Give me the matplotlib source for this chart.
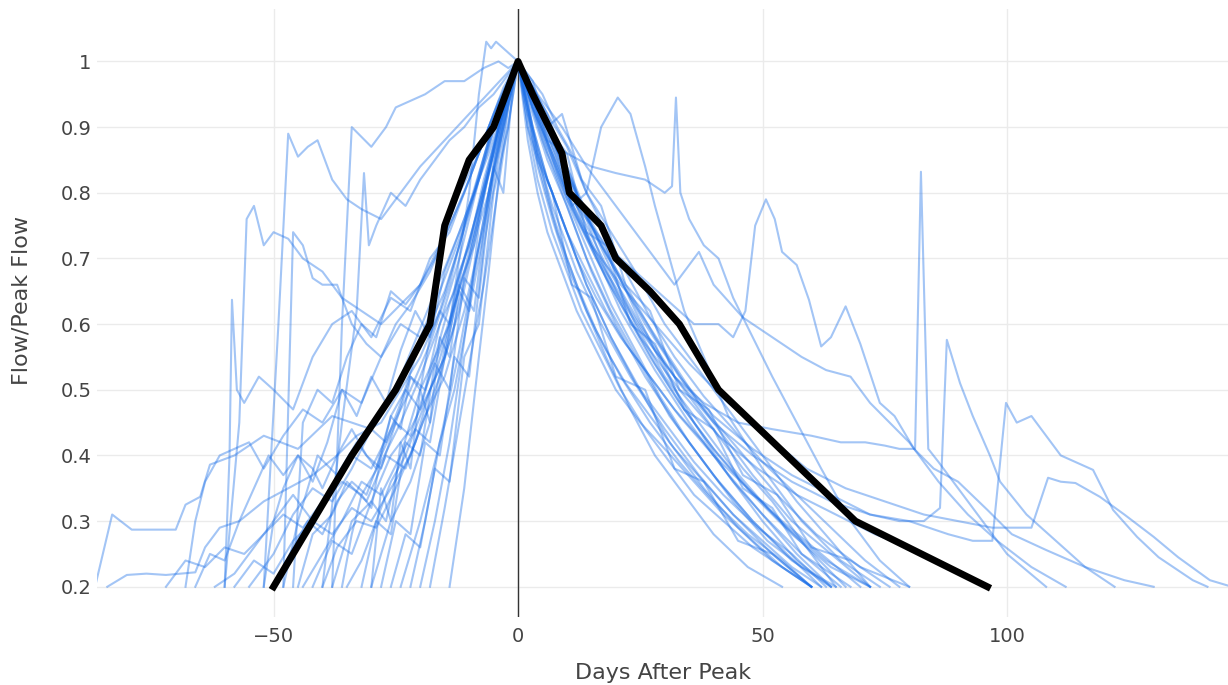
import matplotlib
matplotlib.use("Agg")
import matplotlib.pyplot as plt

plt.rcParams['font.family'] = ['DejaVu Sans']

# mean (design) hydrograph
mean_day = [-50, -42, -34, -25, -18, -15, -10, -5, 0, 3, 9, 10.5, 17, 20, 27, 33, 41, 48, 55, 69, 96]
mean_flow = [0.2, 0.3, 0.4, 0.5, 0.6, 0.75, 0.85, 0.9, 1.0, 0.95, 0.86, 0.8, 0.75, 0.7, 0.65, 0.6, 0.5, 0.45, 0.4, 0.3, 0.2]

# individual events, days after peak and flow/peak flow
d01 = [-86.5, -83, -79, -70, -68, -65, -63, -58, -52, -45, -38, -30, -24, -18, -12, -6, -2, 0, 4, 9, 14, 20, 26, 32, 37, 40, 46, 52, 58, 63, 68, 72, 76, 80, 86, 92, 98, 105, 112]
q01 = [0.2, 0.31, 0.287, 0.287, 0.325, 0.337, 0.386, 0.40, 0.43, 0.41, 0.46, 0.44, 0.52, 0.63, 0.74, 0.86, 0.95, 1.0, 0.95, 0.9, 0.84, 0.78, 0.72, 0.66, 0.71, 0.66, 0.61, 0.58, 0.55, 0.53, 0.52, 0.48, 0.45, 0.42, 0.36, 0.31, 0.27, 0.23, 0.2]

d02 = [-60, -57, -55.5, -54, -52, -50, -47, -44, -40, -36, -32, -28, -24, -20, -16, -12, -8, -4, 0, 3, 7, 12, 18, 24, 30, 36, 41, 44, 46.5, 48.5, 50.7, 52.5, 54, 57, 59.5, 62, 64, 67, 70, 74, 77, 81, 85, 90, 96, 101, 108, 116, 124, 130]
q02 = [0.2, 0.45, 0.76, 0.78, 0.72, 0.74, 0.73, 0.70, 0.68, 0.64, 0.62, 0.60, 0.63, 0.66, 0.72, 0.80, 0.86, 0.94, 1.0, 0.93, 0.86, 0.78, 0.72, 0.68, 0.64, 0.6, 0.6, 0.58, 0.62, 0.75, 0.79, 0.76, 0.71, 0.69, 0.637, 0.566, 0.58, 0.627, 0.57, 0.48, 0.46, 0.41, 0.38, 0.36, 0.317, 0.28, 0.256, 0.23, 0.21, 0.2]

d03 = [-52, -49, -47, -45, -43, -41, -38, -35, -32, -28, -24, -20, -15, -10, -5, 0, 4, 8, 11, 14, 17, 20.4, 23, 26, 28, 31, 34, 38, 43, 50, 58, 66, 74]
q03 = [0.2, 0.6, 0.89, 0.855, 0.87, 0.88, 0.82, 0.79, 0.775, 0.76, 0.80, 0.84, 0.88, 0.92, 0.96, 1.0, 0.93, 0.85, 0.78, 0.8, 0.9, 0.945, 0.92, 0.84, 0.78, 0.7, 0.62, 0.55, 0.46, 0.38, 0.3, 0.24, 0.2]

d04 = [-38, -36, -34, -32, -30, -27, -25, -22, -19, -15, -11, -7, -4, -2, 0, 3, 6, 10, 15, 21, 28, 35, 42, 50, 58, 68]
q04 = [0.2, 0.6, 0.9, 0.885, 0.87, 0.9, 0.93, 0.94, 0.95, 0.97, 0.97, 0.99, 1.0, 0.99, 1.0, 0.96, 0.9, 0.82, 0.72, 0.62, 0.53, 0.45, 0.38, 0.31, 0.25, 0.2]

d05 = [-60, -59, -58.5, -57.5, -56, -53, -50, -46, -42, -38, -34, -30, -26, -22, -18, -14, -10, -6, -3, 0, 3, 7, 12, 17, 23, 30, 37, 44, 52, 60]
q05 = [0.2, 0.4, 0.637, 0.5, 0.48, 0.52, 0.5, 0.47, 0.55, 0.6, 0.62, 0.58, 0.64, 0.62, 0.70, 0.74, 0.82, 0.9, 0.95, 1.0, 0.88, 0.78, 0.68, 0.6, 0.52, 0.44, 0.37, 0.31, 0.25, 0.2]

d06 = [-48, -46, -44, -42, -40, -37, -34, -31, -28, -25, -22, -18, -14, -10, -6, -3, 0, 3, 6, 10, 15, 20, 26, 33, 40, 48, 56, 64]
q06 = [0.2, 0.74, 0.72, 0.67, 0.66, 0.66, 0.6, 0.57, 0.55, 0.6, 0.63, 0.68, 0.75, 0.82, 0.9, 0.96, 1.0, 0.92, 0.85, 0.78, 0.68, 0.6, 0.52, 0.44, 0.37, 0.3, 0.24, 0.2]

d07 = [-40, -36, -33, -31.5, -30.5, -29, -26, -23, -20, -17, -14, -11, -8, -5, -2, 0, 3, 6, 10, 15, 20, 26, 30, 31.5, 32.3, 33.2, 35, 38, 41, 44, 48, 52, 57, 62, 68, 74, 80]
q07 = [0.2, 0.45, 0.62, 0.83, 0.72, 0.75, 0.8, 0.78, 0.82, 0.85, 0.88, 0.9, 0.93, 0.95, 0.98, 1.0, 0.95, 0.9, 0.86, 0.84, 0.83, 0.82, 0.8, 0.81, 0.945, 0.8, 0.76, 0.72, 0.7, 0.64, 0.58, 0.52, 0.45, 0.38, 0.3, 0.24, 0.2]

d08 = [-84, -80, -76, -72, -66, -64, -61, -57, -52, -47, -42, -37, -33, -28, -24, -20, -16, -12, -8, -4, -2, 0, 3, 6, 10, 15, 20, 26, 32, 38, 45, 52, 60, 66, 71, 75, 78, 81.2, 82.4, 83.9, 86, 90, 95, 100, 108]
q08 = [0.2, 0.218, 0.22, 0.218, 0.222, 0.26, 0.29, 0.3, 0.33, 0.35, 0.37, 0.4, 0.43, 0.45, 0.5, 0.55, 0.62, 0.72, 0.82, 0.92, 0.97, 1.0, 0.94, 0.88, 0.8, 0.72, 0.65, 0.58, 0.52, 0.48, 0.45, 0.44, 0.43, 0.42, 0.42, 0.415, 0.41, 0.41, 0.832, 0.41, 0.39, 0.35, 0.3, 0.25, 0.2]

d09 = [-68, -66, -64, -61, -58, -55, -52, -48, -44, -40, -36, -32, -28, -24, -20, -16, -12, -8, -4, 0, 3, 7, 12, 18, 25, 32, 40, 48, 56, 64, 72, 78, 83, 86.3, 87.7, 90.4, 93, 96.5, 98.6, 104, 110, 116, 122]
q09 = [0.2, 0.3, 0.36, 0.4, 0.41, 0.42, 0.38, 0.43, 0.47, 0.45, 0.5, 0.48, 0.55, 0.6, 0.58, 0.65, 0.73, 0.82, 0.92, 1.0, 0.94, 0.87, 0.78, 0.69, 0.6, 0.52, 0.45, 0.4, 0.36, 0.33, 0.31, 0.3, 0.3, 0.32, 0.576, 0.51, 0.46, 0.4, 0.36, 0.31, 0.27, 0.23, 0.2]

d10 = [-44, -40, -36, -32, -28, -24, -20, -17, -14, -11, -8, -5, -2, 0, 3, 6, 10, 15, 20, 26, 33, 40, 48, 56, 64, 72, 80, 88, 93, 97, 99.8, 102, 105, 108, 111, 114, 117.6, 121.7, 126.6, 131, 138, 141]
q10 = [0.2, 0.25, 0.3, 0.36, 0.34, 0.4, 0.5, 0.55, 0.63, 0.7, 0.78, 0.87, 0.95, 1.0, 0.95, 0.9, 0.83, 0.75, 0.68, 0.6, 0.52, 0.46, 0.41, 0.37, 0.34, 0.31, 0.3, 0.28, 0.27, 0.27, 0.48, 0.45, 0.46, 0.43, 0.4, 0.39, 0.378, 0.317, 0.276, 0.245, 0.21, 0.2]

d11 = [-38, -34, -30, -26, -22, -18, -15, -12, -9, -6, -3, 0, 3, 6, 10, 15, 21, 28, 35, 43, 51, 59, 67, 75, 83, 90, 97, 102, 105, 108.4, 111, 114, 119, 124, 130, 135, 141.5, 146]
q11 = [0.2, 0.3, 0.33, 0.4, 0.44, 0.5, 0.55, 0.62, 0.72, 0.83, 0.93, 1.0, 0.93, 0.86, 0.79, 0.72, 0.66, 0.6, 0.54, 0.48, 0.43, 0.38, 0.35, 0.33, 0.31, 0.3, 0.29, 0.29, 0.29, 0.366, 0.36, 0.358, 0.337, 0.31, 0.276, 0.245, 0.21, 0.2]

d12 = [-30, -26, -22, -18, -14, -10, -8, -6.5, -5.5, -4.5, -3, -1.5, 0, 2, 5, 9, 14, 19, 25, 31, 37, 44, 51, 58, 65]
q12 = [0.2, 0.3, 0.36, 0.45, 0.6, 0.8, 0.95, 1.03, 1.02, 1.03, 1.02, 1.01, 1.0, 0.95, 0.88, 0.8, 0.7, 0.62, 0.54, 0.46, 0.4, 0.33, 0.27, 0.23, 0.2]

d13 = [-45, -42, -38, -35, -31, -27, -23, -19, -15, -11, -7, -4, -2, 0, 2, 4, 7, 11, 15, 20, 26, 32, 38, 45, 52, 60]
q13 = [0.2, 0.28, 0.31, 0.36, 0.33, 0.4, 0.38, 0.46, 0.52, 0.62, 0.75, 0.86, 0.94, 1.0, 0.93, 0.85, 0.8, 0.66, 0.64, 0.52, 0.5, 0.38, 0.36, 0.27, 0.25, 0.2]

d14 = [-22, -19, -16, -13, -10, -7, -5, -3, -1, 0, 2, 5, 8, 12, 16, 21, 27, 33, 40, 47, 54, 60]
q14 = [0.2, 0.3, 0.42, 0.5, 0.62, 0.74, 0.83, 0.9, 0.97, 1.0, 0.9, 0.82, 0.74, 0.66, 0.59, 0.52, 0.45, 0.39, 0.33, 0.28, 0.24, 0.2]

d15 = [-40, -37, -33, -29, -25, -21, -18, -15, -12, -9, -6, -3, 0, 3, 6, 10, 14, 18, 23, 28, 34, 40, 46, 52, 58, 66]
q15 = [0.2, 0.26, 0.3, 0.29, 0.35, 0.42, 0.5, 0.55, 0.66, 0.72, 0.83, 0.93, 1.0, 0.96, 0.88, 0.86, 0.74, 0.72, 0.6, 0.57, 0.47, 0.44, 0.35, 0.32, 0.25, 0.2]

d16 = [-55, -50, -46, -42, -38, -34, -30, -27, -24, -21, -18, -15, -12, -9, -6, -3, 0, 3, 7, 11, 16, 21, 27, 33, 40, 47, 55, 63, 72]
q16 = [0.2, 0.25, 0.31, 0.35, 0.33, 0.38, 0.44, 0.42, 0.48, 0.55, 0.6, 0.65, 0.72, 0.8, 0.88, 0.94, 1.0, 0.93, 0.86, 0.78, 0.7, 0.63, 0.55, 0.48, 0.41, 0.35, 0.29, 0.24, 0.2]

d17 = [-28, -25, -22, -19, -16, -13, -10, -7, -4, -2, 0, 2, 4, 7, 10, 14, 18, 22, 27, 32, 38, 44, 50, 56, 62]
q17 = [0.2, 0.3, 0.28, 0.42, 0.4, 0.55, 0.52, 0.72, 0.85, 0.93, 1.0, 0.92, 0.84, 0.76, 0.69, 0.62, 0.56, 0.51, 0.46, 0.41, 0.36, 0.31, 0.27, 0.23, 0.2]

d18 = [-35, -32, -29, -26, -23, -20, -17, -14, -11, -8, -5, -2, 0, 3, 6, 9, 13, 17, 22, 27, 33, 39, 46, 53, 60, 68, 76]
q18 = [0.2, 0.24, 0.3, 0.36, 0.4, 0.46, 0.52, 0.6, 0.7, 0.78, 0.86, 0.95, 1.0, 0.97, 0.9, 0.92, 0.82, 0.78, 0.66, 0.62, 0.5, 0.47, 0.37, 0.34, 0.26, 0.24, 0.2]

d19 = [-48, -45, -41, -37, -33, -29, -26, -23, -20, -17, -14, -11, -8, -5, -2, 0, 3, 6, 10, 14, 19, 24, 30, 36, 42, 49, 56, 63]
q19 = [0.2, 0.3, 0.4, 0.37, 0.42, 0.38, 0.46, 0.5, 0.47, 0.55, 0.6, 0.68, 0.77, 0.86, 0.95, 1.0, 0.9, 0.82, 0.74, 0.66, 0.58, 0.51, 0.45, 0.39, 0.34, 0.29, 0.25, 0.2]

d20 = [-20, -17, -14, -12, -10, -8, -6, -4, -2, 0, 2, 4, 6, 9, 12, 16, 20, 25, 30, 36, 42, 48, 54, 60]
q20 = [0.2, 0.3, 0.42, 0.52, 0.63, 0.72, 0.8, 0.87, 0.94, 1.0, 0.88, 0.8, 0.74, 0.68, 0.62, 0.56, 0.5, 0.45, 0.41, 0.36, 0.31, 0.27, 0.23, 0.2]

d21 = [-62, -58, -54, -50, -46, -42, -38, -34, -30, -26, -22, -18, -14, -10, -6, -3, 0, 3, 6, 10, 14, 19, 24, 30, 36, 43, 50, 57, 64]
q21 = [0.2, 0.22, 0.26, 0.3, 0.34, 0.3, 0.35, 0.4, 0.38, 0.44, 0.5, 0.57, 0.66, 0.78, 0.88, 0.95, 1.0, 0.95, 0.9, 0.84, 0.77, 0.7, 0.62, 0.53, 0.45, 0.37, 0.3, 0.24, 0.2]

d22 = [-32, -29, -26, -23, -20, -17, -14, -11, -8, -5, -3, -1, 0, 2, 5, 8, 11, 15, 19, 24, 29, 35, 41, 48, 55, 62]
q22 = [0.2, 0.3, 0.28, 0.42, 0.4, 0.54, 0.5, 0.67, 0.64, 0.84, 0.8, 0.97, 1.0, 0.96, 0.9, 0.83, 0.77, 0.7, 0.63, 0.56, 0.49, 0.42, 0.36, 0.3, 0.25, 0.2]

d23 = [-42, -38, -34, -30, -27, -24, -21, -18, -15, -12, -9, -6, -3, 0, 2, 5, 9, 13, 18, 24, 30, 37, 44, 51, 59, 67]
q23 = [0.2, 0.27, 0.25, 0.33, 0.3, 0.4, 0.44, 0.42, 0.55, 0.66, 0.62, 0.8, 0.9, 1.0, 0.97, 0.92, 0.85, 0.78, 0.7, 0.6, 0.52, 0.45, 0.38, 0.32, 0.26, 0.2]

d24 = [-26, -23, -20, -17, -14, -11, -8, -5, -2, 0, 3, 6, 9, 13, 17, 22, 28, 34, 41, 48, 56, 64, 72]
q24 = [0.2, 0.28, 0.26, 0.38, 0.36, 0.55, 0.6, 0.8, 0.9, 1.0, 0.96, 0.92, 0.86, 0.78, 0.7, 0.62, 0.54, 0.47, 0.4, 0.34, 0.28, 0.23, 0.2]

d25 = [-50, -46, -43, -40, -37, -34, -31, -28, -25, -22, -19, -16, -13, -10, -7, -4, -2, 0, 2, 4, 7, 10, 14, 18, 23, 28, 34, 40, 47, 54]
q25 = [0.2, 0.26, 0.3, 0.28, 0.33, 0.36, 0.34, 0.4, 0.45, 0.43, 0.5, 0.56, 0.63, 0.7, 0.8, 0.88, 0.95, 1.0, 0.94, 0.86, 0.77, 0.7, 0.62, 0.55, 0.47, 0.4, 0.34, 0.28, 0.23, 0.2]

d26 = [-18, -15, -12, -9, -7, -5, -3, -1, 0, 2, 4, 7, 10, 13, 17, 21, 26, 31, 36, 42, 48, 54, 60]
q26 = [0.2, 0.32, 0.45, 0.58, 0.66, 0.76, 0.86, 0.95, 1.0, 0.9, 0.82, 0.74, 0.68, 0.62, 0.56, 0.5, 0.44, 0.39, 0.34, 0.3, 0.26, 0.23, 0.2]

d27 = [-58, -54, -50, -46, -42, -38, -34, -30, -26, -22, -19, -16, -13, -10, -7, -4, -1, 0, 3, 6, 10, 14, 19, 25, 31, 38, 45, 52, 60]
q27 = [0.2, 0.24, 0.22, 0.27, 0.3, 0.28, 0.32, 0.3, 0.35, 0.4, 0.46, 0.52, 0.6, 0.7, 0.8, 0.9, 0.98, 1.0, 0.9, 0.82, 0.74, 0.66, 0.58, 0.5, 0.42, 0.35, 0.29, 0.24, 0.2]

d28 = [-72, -68, -64, -60, -56, -52, -48, -44, -40, -36, -32, -28, -24, -20, -16, -12, -8, -4, -1, 0, 3, 7, 12, 17, 23, 30, 37, 45, 53, 61, 70, 80]
q28 = [0.2, 0.24, 0.23, 0.26, 0.25, 0.28, 0.31, 0.29, 0.33, 0.36, 0.34, 0.39, 0.45, 0.52, 0.6, 0.7, 0.82, 0.93, 0.99, 1.0, 0.95, 0.88, 0.8, 0.72, 0.64, 0.56, 0.48, 0.41, 0.34, 0.28, 0.23, 0.2]

d29 = [-46, -44, -41, -38, -35, -32, -29, -26, -23, -20, -17, -14, -11, -8, -5, -2, 0, 3, 6, 10, 14, 19, 24, 30, 36, 43, 50, 57, 64, 72]
q29 = [0.2, 0.45, 0.5, 0.48, 0.55, 0.6, 0.58, 0.65, 0.63, 0.66, 0.7, 0.75, 0.8, 0.86, 0.92, 0.97, 1.0, 0.96, 0.92, 0.87, 0.8, 0.74, 0.68, 0.6, 0.54, 0.47, 0.4, 0.33, 0.27, 0.2]

d30 = [-14, -11, -8, -6, -4, -2, 0, 2, 5, 8, 11, 14, 18, 22, 27, 32, 38, 44, 50, 57, 64, 71, 78]
q30 = [0.2, 0.35, 0.55, 0.68, 0.82, 0.93, 1.0, 0.98, 0.95, 0.9, 0.86, 0.8, 0.74, 0.68, 0.61, 0.55, 0.49, 0.44, 0.39, 0.34, 0.29, 0.24, 0.2]

d31 = [-24, -20, -16, -12, -8, -5, -2, 0, 3, 7, 12, 18, 25, 33, 41, 49, 57, 65, 73, 80, 86, 91, 95]
q31 = [0.2, 0.3, 0.42, 0.56, 0.72, 0.84, 0.95, 1.0, 0.93, 0.85, 0.76, 0.67, 0.58, 0.5, 0.43, 0.38, 0.34, 0.31, 0.28, 0.26, 0.24, 0.22, 0.2]

d32 = [-66, -63, -60, -57, -54, -51, -48, -45, -42, -39, -36, -33, -30, -27, -24, -21, -18, -15, -12, -9, -6, -3, 0, 2, 5, 8, 12, 16, 21, 27, 33, 40, 47, 54, 62, 70]
q32 = [0.2, 0.25, 0.24, 0.3, 0.35, 0.4, 0.37, 0.4, 0.36, 0.42, 0.5, 0.46, 0.52, 0.48, 0.56, 0.62, 0.58, 0.68, 0.74, 0.8, 0.88, 0.94, 1.0, 0.92, 0.84, 0.78, 0.7, 0.64, 0.58, 0.52, 0.46, 0.4, 0.35, 0.3, 0.25, 0.2]

d33 = [-52, -50, -48, -45, -42, -40, -37, -34, -31, -28, -25, -22, -19, -16, -13, -10, -7, -4, -2, 0, 3, 6, 10, 14, 18, 23, 28, 34, 40, 46, 52, 58, 65]
q33 = [0.2, 0.3, 0.35, 0.4, 0.38, 0.35, 0.4, 0.44, 0.4, 0.38, 0.45, 0.52, 0.5, 0.6, 0.65, 0.72, 0.82, 0.9, 0.96, 1.0, 0.94, 0.87, 0.8, 0.74, 0.68, 0.62, 0.56, 0.5, 0.44, 0.38, 0.33, 0.27, 0.2]

d34 = [-30, -28, -26, -24, -22, -20, -18, -16, -14, -12, -10, -8, -6, -4, -2, 0, 2, 4, 7, 10, 14, 18, 22, 27, 32, 38, 44, 50, 57, 64]
q34 = [0.2, 0.35, 0.3, 0.42, 0.38, 0.5, 0.45, 0.58, 0.55, 0.65, 0.62, 0.75, 0.8, 0.88, 0.95, 1.0, 0.93, 0.86, 0.8, 0.74, 0.68, 0.62, 0.57, 0.52, 0.47, 0.42, 0.36, 0.31, 0.25, 0.2]

d35 = [-36, -34, -32, -30, -28, -26, -24, -22, -20, -18, -16, -14, -12, -10, -8, -6, -4, -2, 0, 3, 6, 9, 13, 17, 22, 28, 34, 41, 48, 56, 64, 72]
q35 = [0.2, 0.28, 0.34, 0.32, 0.4, 0.46, 0.44, 0.52, 0.5, 0.58, 0.62, 0.6, 0.68, 0.72, 0.78, 0.84, 0.9, 0.96, 1.0, 0.95, 0.9, 0.84, 0.78, 0.72, 0.66, 0.58, 0.51, 0.44, 0.37, 0.3, 0.25, 0.2]

events = [(d01, q01), (d02, q02), (d03, q03), (d04, q04), (d05, q05), (d06, q06),
          (d07, q07), (d08, q08), (d09, q09), (d10, q10), (d11, q11), (d12, q12),
          (d13, q13), (d14, q14), (d15, q15), (d16, q16), (d17, q17), (d18, q18),
          (d19, q19), (d20, q20), (d21, q21), (d22, q22), (d23, q23), (d24, q24),
          (d25, q25), (d26, q26), (d27, q27), (d28, q28), (d29, q29), (d30, q30),
          (d31, q31), (d32, q32), (d33, q33), (d34, q34), (d35, q35)]

xticks = [-50, 0, 50, 100]
yticks = [0.2, 0.3, 0.4, 0.5, 0.6, 0.7, 0.8, 0.9, 1.0]
ytick_labels = ['0.2', '0.3', '0.4', '0.5', '0.6', '0.7', '0.8', '0.9', '1']

fig, ax = plt.subplots(figsize=(12.28, 6.85), dpi=100)
fig.subplots_adjust(left=0.079, right=1.0, bottom=0.0993, top=0.987)

for i, (d, q) in enumerate(events):
    assert len(d) == len(q), i + 1
    ax.plot(d, q, color='#1a6ee8', alpha=0.4, lw=1.5, zorder=2)

ax.axvline(0, color='#333333', lw=1, zorder=1)
ax.plot(mean_day, mean_flow, color='black', lw=5, zorder=3, solid_joinstyle='round')

ax.set_xlim(-86.1, 145.2)
ax.set_ylim(0.154, 1.08)
ax.set_xticks(xticks)
ax.set_yticks(yticks)
ax.set_yticklabels(ytick_labels)
ax.grid(True, color='#ebebeb', lw=1)
ax.set_axisbelow(True)
for s in ax.spines.values():
    s.set_visible(False)
ax.tick_params(length=0, labelsize=14, colors='#444444')
ax.tick_params(axis='y', pad=4)
ax.tick_params(axis='x', pad=7)

fig.text(22 / 1228, 1 - 300 / 685, 'Flow/Peak Flow', rotation=90, ha='center', va='center',
         fontsize=16, color='#444444')
fig.text(663 / 1228, 1 - 673 / 685, 'Days After Peak', ha='center', va='center',
         fontsize=16, color='#444444')

fig.savefig('out.png', dpi=100)
